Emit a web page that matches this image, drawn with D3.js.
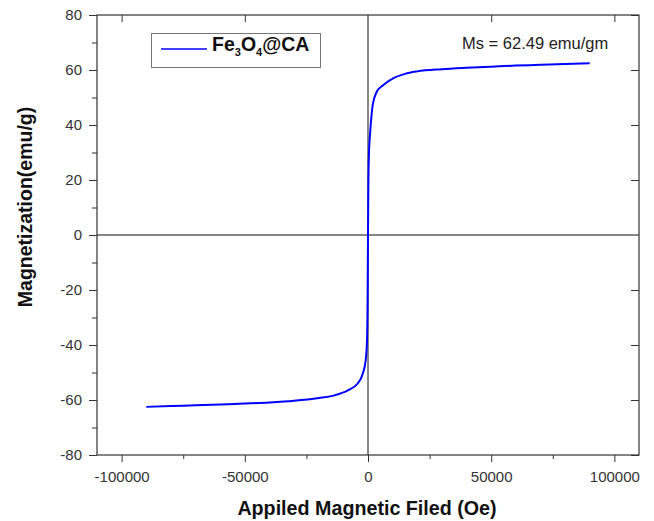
<!DOCTYPE html>
<html><head><meta charset="utf-8">
<script src="https://cdn.jsdelivr.net/npm/d3@7"></script>
<style>body{margin:0;background:#fff;}svg{display:block;font-family:"Liberation Sans",Arial,sans-serif;}</style>
</head><body><svg id="c" width="654" height="521"></svg>
<script>
const fieldOe = [-90000,-80000,-70000,-60000,-50000,-40000,-30000,-20000,-14000,-8000,-4200,-2100,-950,-400,-150,0,150,400,800,1200,1900,3500,6000,10000,15000,20000,30000,40000,50000,60000,70000,80000,90000];
const magnetization = [-62.5,-62.2,-61.9,-61.6,-61.3,-60.9,-60.3,-59.3,-58.4,-56.4,-54.0,-50.4,-45.6,-38.3,-22,0,18,30,36.3,41.1,47.2,52.0,54.4,56.9,58.6,59.5,60.3,60.8,61.2,61.6,61.9,62.2,62.49];
const xTicks = [-100000,-50000,0,50000,100000];
const xMinor = [-75000,-25000,25000,75000];
const yTicks = [-80,-60,-40,-20,0,20,40,60,80];
const yMinor = [-70,-50,-30,-10,10,30,50,70];
const seriesName = "Fe3O4@CA";
const annotation = "Ms = 62.49 emu/gm";

const svg = d3.select("#c");
const L=97,R=639,T=15,B=455;
const x = d3.scaleLinear().domain([-110000,110000]).range([L,R]);
const y = d3.scaleLinear().domain([-80,80]).range([B,T]);
const axisCol="#333";
const fmt = d => String(d);

// zero lines
svg.append("line").attr("x1",L).attr("x2",R).attr("y1",y(0)).attr("y2",y(0)).attr("stroke","#111").attr("stroke-width",1);
svg.append("line").attr("x1",x(0)).attr("x2",x(0)).attr("y1",T).attr("y2",B).attr("stroke","#111").attr("stroke-width",1);

// curve
const line = d3.line().x((d,i)=>x(fieldOe[i])).y(d=>y(d)).curve(d3.curveMonotoneX);
svg.append("path").attr("d",line(magnetization)).attr("fill","none").attr("stroke","#0000ff").attr("stroke-width",2);

function styleAxis(g){g.selectAll("path,line").attr("stroke",axisCol);g.select(".domain").remove();g.selectAll("text").attr("fill","#333").attr("font-size",15).attr("font-family","Liberation Sans, Arial, sans-serif");}

// bottom
const gb = svg.append("g").attr("transform",`translate(0,${B})`).call(d3.axisBottom(x).tickValues(xTicks).tickSize(7).tickPadding(9).tickFormat(fmt));
styleAxis(gb);
const gbm = svg.append("g").attr("transform",`translate(0,${B})`).call(d3.axisBottom(x).tickValues(xMinor).tickSize(4).tickFormat(""));
styleAxis(gbm);
// top
const gt = svg.append("g").attr("transform",`translate(0,${T})`).call(d3.axisBottom(x).tickValues(xTicks.filter(v=>v!==0)).tickSize(7).tickFormat(""));
styleAxis(gt);
// left
const gl = svg.append("g").attr("transform",`translate(${L},0)`).call(d3.axisLeft(y).tickValues(yTicks).tickSize(8).tickPadding(7).tickFormat(fmt));
styleAxis(gl);
const glm = svg.append("g").attr("transform",`translate(${L},0)`).call(d3.axisLeft(y).tickValues(yMinor).tickSize(5).tickFormat(""));
styleAxis(glm);
// right
const gr = svg.append("g").attr("transform",`translate(${R},0)`).call(d3.axisLeft(y).tickValues(yTicks.filter(v=>v!==0)).tickSize(8).tickFormat(""));
styleAxis(gr);

// frame
svg.append("rect").attr("x",L).attr("y",T).attr("width",R-L).attr("height",B-T).attr("fill","none").attr("stroke",axisCol).attr("stroke-width",1.2);

// legend
svg.append("rect").attr("x",151.5).attr("y",33.5).attr("width",169).attr("height",34).attr("fill","#fff").attr("stroke","#777").attr("stroke-width",1);
svg.append("line").attr("x1",161).attr("x2",207).attr("y1",49).attr("y2",49).attr("stroke","#0000ff").attr("stroke-width",1.5);
const lt = svg.append("text").attr("x",212).attr("y",56).attr("font-size",19.5).attr("font-weight","bold").attr("fill","#111");
const parts = seriesName.match(/[A-Za-z@]+|\d/g);
parts.forEach(p=>{
  if(/^\d$/.test(p)) lt.append("tspan").attr("font-size",11).attr("dy",5).text(p);
  else lt.append("tspan").attr("dy", lt.selectAll("tspan").size()? -5:0).text(p);
});

// annotation
svg.append("text").attr("x",462).attr("y",49).attr("font-size",16.5).attr("fill","#222").text(annotation);

// axis titles
svg.append("text").attr("x",367).attr("y",515).attr("text-anchor","middle").attr("font-size",19.7).attr("font-weight","bold").attr("fill","#111").text("Appiled Magnetic Filed (Oe)");
svg.append("text").attr("transform",`translate(32,207) rotate(-90)`).attr("text-anchor","middle").attr("font-size",19.5).attr("font-weight","bold").attr("fill","#111").text("Magnetization(emu/g)");
</script></body></html>
